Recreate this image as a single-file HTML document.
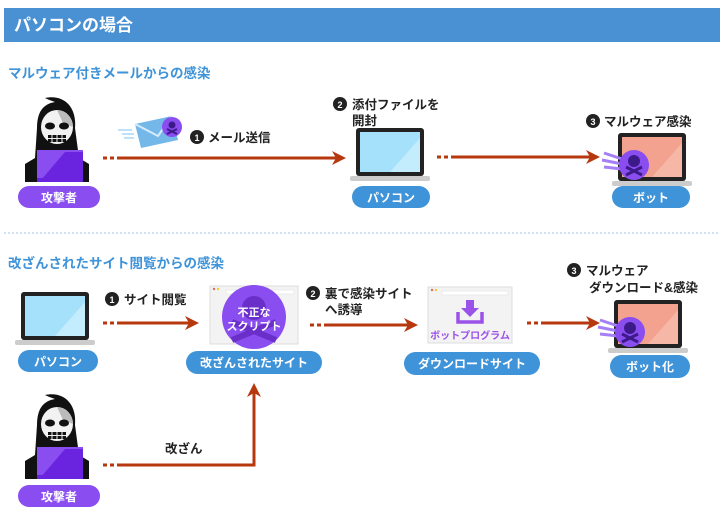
<!DOCTYPE html>
<html><head><meta charset="utf-8"><style>
html,body{margin:0;padding:0;background:#fff;width:724px;height:523px;overflow:hidden}
svg{display:block}
text{font-family:"Liberation Sans","Noto Sans CJK JP",sans-serif;font-weight:bold}
</style></head><body>
<svg width="724" height="523" viewBox="0 0 724 523" xmlns="http://www.w3.org/2000/svg">
<defs>
<marker id="ah" markerWidth="14" markerHeight="14" refX="11" refY="7" orient="auto" markerUnits="userSpaceOnUse">
<path d="M0,0 L14,7 L0,14 L4,7Z" fill="#b7380f"/></marker>
<g id="reaper">
<path d="M20,0 C38,-4 52,8 50,30 L54,60 L64,66 L64,84 L0,84 L0,66 L10,60 L12,30 C12,14 18,6 30,4 C24,2 22,1 20,0Z" fill="#111"/>
<ellipse cx="32" cy="29" rx="16" ry="17" fill="#f2f2f2"/>
<path d="M32,12 A16,17 0 0 1 48,29 L38,25Z" fill="#bbb"/>
<ellipse cx="25" cy="28" rx="5" ry="3.5" fill="#111"/><ellipse cx="39" cy="28" rx="5" ry="3.5" fill="#111"/>
<rect x="23" y="37" width="18" height="7" fill="#111"/>
<path d="M23,40.5 H41 M27,37 V44 M32,37 V44 M37,37 V44" stroke="#eee" stroke-width="1"/>
<rect x="12" y="52" width="46" height="30" fill="#8a4df0"/>
<path d="M16,82 L40,54 L58,54 L58,82Z" fill="#6a24e0"/>
<rect x="12" y="80" width="46" height="4" fill="#6a24e0"/>
</g>
<g id="laptop">
<rect x="6" y="0" width="68" height="48" rx="3" fill="#222"/>
<rect x="10" y="4" width="60" height="40" fill="#a5e1fb"/>
<path d="M40,44 L70,10 L70,44Z" fill="#c3ecfd"/>
<rect x="0" y="48" width="80" height="5" rx="2" fill="#ccc"/>
</g>
<g id="botlaptop">
<rect x="6" y="0" width="68" height="48" rx="3" fill="#222"/>
<rect x="10" y="4" width="60" height="40" fill="#f2a28f"/>
<path d="M40,44 L70,10 L70,44Z" fill="#f6b7a6"/>
<rect x="0" y="48" width="80" height="5" rx="2" fill="#ccc"/>
<path d="M-8,20 L10,26 M-10,27 L10,31 M-8,34 L10,36" stroke="#a57ff5" stroke-width="3"/>
<circle cx="22" cy="32" r="15" fill="#8a4df0"/>
<circle cx="22" cy="28" r="6" fill="#3d1a8a"/>
<path d="M14,34 L30,42 M30,34 L14,42" stroke="#3d1a8a" stroke-width="3"/>
</g>
</defs>

<rect x="4" y="8" width="716" height="34" fill="#4a91d3"/>
<text x="14" y="31" fill="#fff" font-size="17">パソコンの場合</text>
<text x="8" y="78" fill="#3f93d8" font-size="13.5">マルウェア付きメールからの感染</text>

<use href="#reaper" x="25" y="98"/>
<rect x="18" y="186" width="82" height="22" rx="11" fill="#8a4df0"/>
<text x="59" y="202" fill="#fff" font-size="12" text-anchor="middle">攻撃者</text>

<path d="M103,158 h4 M110,158 h4" stroke="#b7380f" stroke-width="3"/>
<line x1="117" y1="158" x2="343" y2="158" stroke="#b7380f" stroke-width="3" marker-end="url(#ah)"/>
<path d="M118,130 h14 M122,134 h12 M124,138 h10" stroke="#bfe1f7" stroke-width="2"/>
<path d="M135,124 L172,116 L178,140 L141,148Z" fill="#74b8ea"/>
<path d="M135,124 L158,136 L172,116" fill="none" stroke="#d6ecfa" stroke-width="2"/>
<circle cx="172" cy="127" r="10" fill="#8a4df0"/>
<circle cx="172" cy="125" r="3.5" fill="#3d1a8a"/>
<path d="M167,129 L177,134 M177,129 L167,134" stroke="#3d1a8a" stroke-width="2"/>
<circle cx="197" cy="137" r="7" fill="#222"/><text x="197" y="141" fill="#fff" font-size="9" text-anchor="middle">1</text>
<text x="208" y="142" fill="#222" font-size="12.5">メール送信</text>

<circle cx="340" cy="104" r="7" fill="#222"/><text x="340" y="108" fill="#fff" font-size="9" text-anchor="middle">2</text>
<text x="352" y="109" fill="#222" font-size="12.5">添付ファイルを</text>
<text x="352" y="125" fill="#222" font-size="12.5">開封</text>
<use href="#laptop" x="350" y="128"/>
<rect x="352" y="186" width="78" height="22" rx="11" fill="#3f93d8"/>
<text x="391" y="202" fill="#fff" font-size="12" text-anchor="middle">パソコン</text>

<path d="M437,157 h4 M444,157 h4" stroke="#b7380f" stroke-width="3"/>
<line x1="451" y1="157" x2="597" y2="157" stroke="#b7380f" stroke-width="3" marker-end="url(#ah)"/>

<circle cx="593" cy="121" r="7" fill="#222"/><text x="593" y="125" fill="#fff" font-size="9" text-anchor="middle">3</text>
<text x="604" y="126" fill="#222" font-size="12.5">マルウェア感染</text>
<use href="#botlaptop" x="612" y="133"/>
<rect x="612" y="186" width="78" height="22" rx="11" fill="#3f93d8"/>
<text x="651" y="202" fill="#fff" font-size="12" text-anchor="middle">ボット</text>

<line x1="4" y1="233" x2="720" y2="233" stroke="#9cc6e8" stroke-width="1" stroke-dasharray="2,2"/>

<text x="8" y="268" fill="#3f93d8" font-size="13.5">改ざんされたサイト閲覧からの感染</text>
<use href="#laptop" x="15" y="292"/>
<rect x="18" y="350" width="80" height="22" rx="11" fill="#3f93d8"/>
<text x="58" y="366" fill="#fff" font-size="12" text-anchor="middle">パソコン</text>

<circle cx="112" cy="299" r="7" fill="#222"/><text x="112" y="303" fill="#fff" font-size="9" text-anchor="middle">1</text>
<text x="124" y="304" fill="#222" font-size="12.5">サイト閲覧</text>
<path d="M103,323 h4 M110,323 h4" stroke="#b7380f" stroke-width="3"/>
<line x1="117" y1="323" x2="196" y2="323" stroke="#b7380f" stroke-width="3" marker-end="url(#ah)"/>

<rect x="210" y="286" width="88" height="58" fill="#f3f3f3" stroke="#ddd"/>
<rect x="226" y="290" width="68" height="4" fill="#fff" stroke="#ddd" stroke-width="0.5"/>
<circle cx="214" cy="289" r="1.2" fill="#e66"/><circle cx="218" cy="289" r="1.2" fill="#ec3"/>
<circle cx="254" cy="317" r="32" fill="#8a4df0"/>
<circle cx="254" cy="308" r="12" fill="#6a2fc8"/>
<path d="M232,322 L276,340 M276,322 L232,340" stroke="#6a2fc8" stroke-width="6"/>
<text x="254" y="316" fill="#fff" font-size="11" text-anchor="middle">不正な</text>
<text x="254" y="330" fill="#fff" font-size="11" text-anchor="middle">スクリプト</text>
<rect x="186" y="351" width="136" height="23" rx="11.5" fill="#3f93d8"/>
<text x="254" y="367" fill="#fff" font-size="12" text-anchor="middle">改ざんされたサイト</text>

<circle cx="313" cy="293" r="7" fill="#222"/><text x="313" y="297" fill="#fff" font-size="9" text-anchor="middle">2</text>
<text x="325" y="298" fill="#222" font-size="12.5">裏で感染サイト</text>
<text x="325" y="314" fill="#222" font-size="12.5">へ誘導</text>
<path d="M310,325 h4 M317,325 h4" stroke="#b7380f" stroke-width="3"/>
<line x1="324" y1="325" x2="415" y2="325" stroke="#b7380f" stroke-width="3" marker-end="url(#ah)"/>

<rect x="428" y="287" width="84" height="56" fill="#f3f3f3" stroke="#ddd"/>
<rect x="442" y="291" width="66" height="4" fill="#fff" stroke="#ddd" stroke-width="0.5"/>
<circle cx="432" cy="290" r="1.2" fill="#e66"/><circle cx="436" cy="290" r="1.2" fill="#ec3"/>
<rect x="466" y="300" width="8" height="9" fill="#9b52e8"/>
<path d="M461,308 L479,308 L470,317Z" fill="#9b52e8"/>
<path d="M458,312 V322 H482 V312" fill="none" stroke="#9b52e8" stroke-width="3.5"/>
<text x="470" y="339" fill="#9b52e8" font-size="10" text-anchor="middle">ボットプログラム</text>
<rect x="404" y="352" width="136" height="23" rx="11.5" fill="#3f93d8"/>
<text x="472" y="368" fill="#fff" font-size="12" text-anchor="middle">ダウンロードサイト</text>

<path d="M527,323 h4 M534,323 h4" stroke="#b7380f" stroke-width="3"/>
<line x1="541" y1="323" x2="597" y2="323" stroke="#b7380f" stroke-width="3" marker-end="url(#ah)"/>

<circle cx="574" cy="270" r="7" fill="#222"/><text x="574" y="274" fill="#fff" font-size="9" text-anchor="middle">3</text>
<text x="586" y="275" fill="#222" font-size="12.5">マルウェア</text>
<text x="589" y="292" fill="#222" font-size="12.5">ダウンロード&amp;感染</text>
<use href="#botlaptop" x="608" y="300"/>
<rect x="610" y="355" width="80" height="23" rx="11.5" fill="#3f93d8"/>
<text x="650" y="371" fill="#fff" font-size="12" text-anchor="middle">ボット化</text>

<use href="#reaper" x="25" y="395"/>
<rect x="18" y="485" width="82" height="22" rx="11" fill="#8a4df0"/>
<text x="59" y="501" fill="#fff" font-size="12" text-anchor="middle">攻撃者</text>
<path d="M103,465 h4 M110,465 h4" stroke="#b7380f" stroke-width="3"/>
<polyline points="117,465 254,465 254,386" fill="none" stroke="#b7380f" stroke-width="3" marker-end="url(#ah)"/>
<text x="165" y="453" fill="#222" font-size="12.5">改ざん</text>
</svg>
</body></html>
